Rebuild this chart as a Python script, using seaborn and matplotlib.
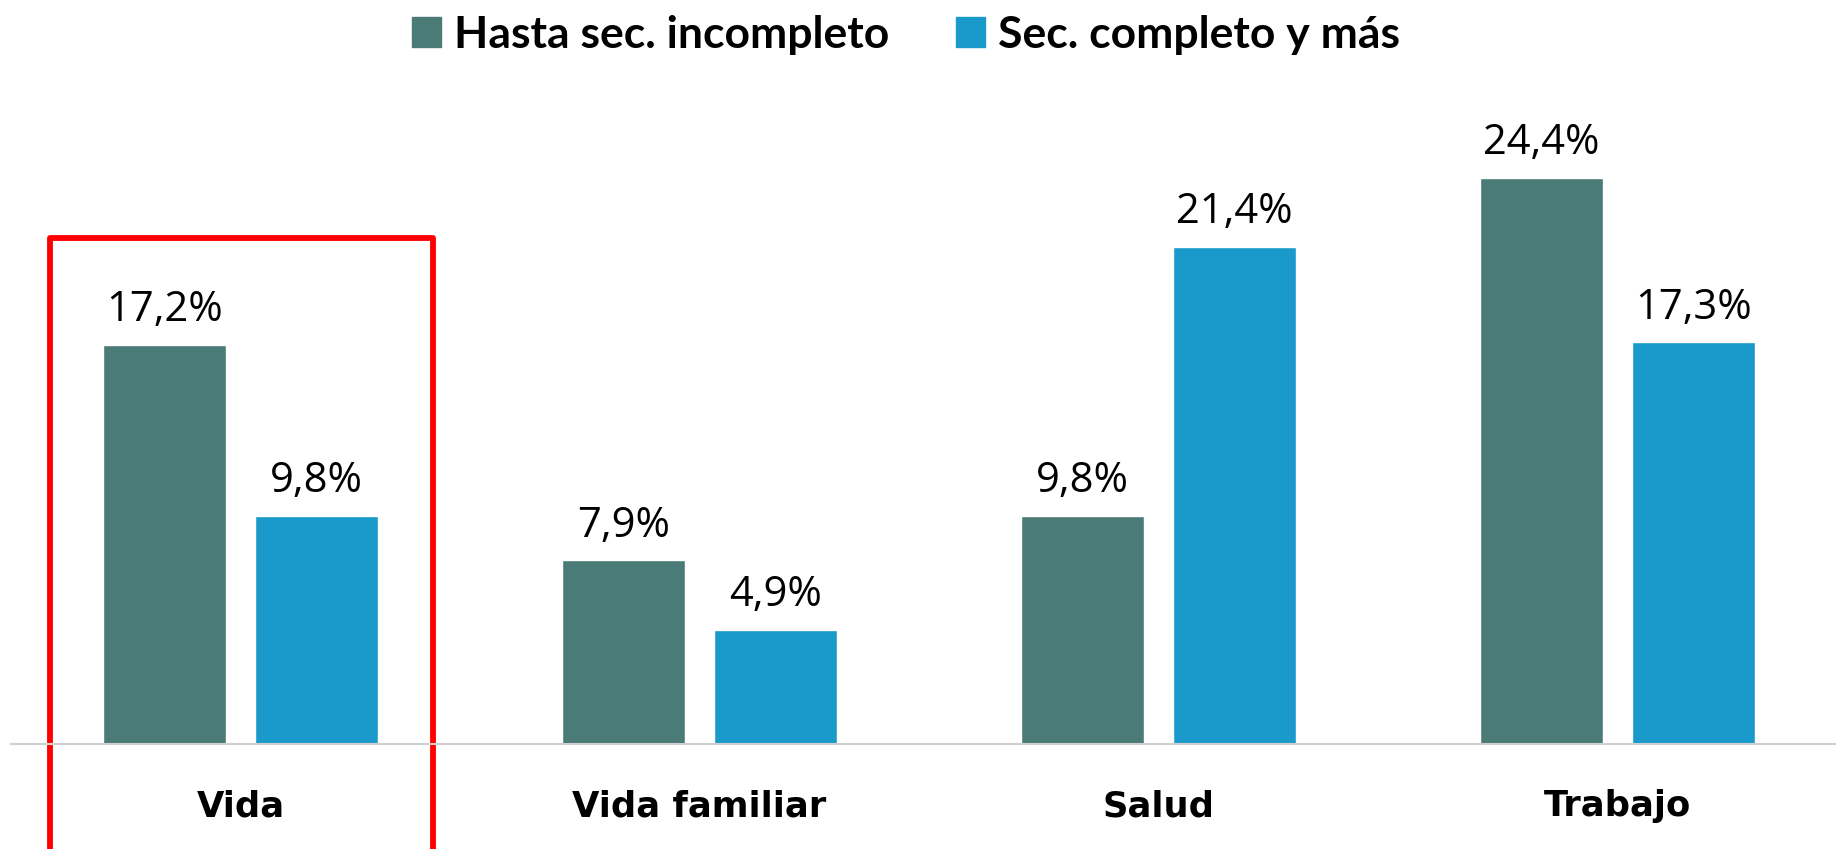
import matplotlib
matplotlib.use("Agg")
import matplotlib.pyplot as plt
import matplotlib.patches as mpatches
import seaborn as sns
import pandas as pd

# datos
categorias = ["Vida", "Vida familiar", "Salud", "Trabajo"]
series = ["Hasta sec. incompleto", "Sec. completo y más"]
hasta_sec = [17.2, 7.9, 9.8, 24.4]
sec_completo = [9.8, 4.9, 21.4, 17.3]
colores = ["#4A7B77", "#1A9ACB"]

df = pd.DataFrame({
    "Categoria": categorias * 2,
    "Serie": [series[0]] * 4 + [series[1]] * 4,
    "Valor": hasta_sec + sec_completo,
})

sns.set_style("white")
plt.rcParams["font.family"] = ["Open Sans", "DejaVu Sans"]
plt.rcParams["text.color"] = "black"

fig = plt.figure(figsize=(18.36, 8.49), dpi=100)
ax = fig.add_axes([11 / 1836, 0.1241, 1 - 11 / 1836, 0.7375])

sns.barplot(data=df, x="Categoria", y="Valor", hue="Serie", order=categorias,
            hue_order=series, palette=colores, width=0.664, gap=0.19,
            saturation=1, legend=False, ax=ax)

for cont in ax.containers:
    ax.bar_label(cont, labels=[f"{v:.1f}%".replace(".", ",") for v in cont.datavalues],
                 padding=10, fontsize=30, color="black")

ax.set_ylim(0, 27)
ax.set_xlim(-0.5, 3.476)
ax.set_xlabel("")
ax.set_ylabel("")
ax.set_yticks([])
ax.set_xticks(range(len(categorias)))
ax.set_xticklabels(categorias, fontsize=25.5, fontweight="bold", color="black",
                   family="DejaVu Sans")
ax.tick_params(axis="x", length=0, pad=33)
for s in ["top", "right", "left"]:
    ax.spines[s].set_visible(False)
ax.spines["bottom"].set_color("#d0d0d0")
ax.spines["bottom"].set_linewidth(1.5)

# recuadro rojo
rect = mpatches.Rectangle((-0.415, -6), 0.834, 27.8, fill=False, edgecolor="#FF0000",
                          linewidth=4.2, clip_on=False, joinstyle="round")
ax.add_patch(rect)

handles = [mpatches.Patch(color=c, label=s) for c, s in zip(colores, series)]
leg = fig.legend(handles=handles, loc="upper center", bbox_to_anchor=(0.4935, 1.03), ncol=2,
                 frameon=False, handlelength=0.65, handleheight=0.65, handletextpad=0.3,
                 columnspacing=1.5, prop={"family": "Lato", "weight": "bold", "size": 32})
for t in leg.get_texts():
    t.set_color("black")

fig.savefig("out.png", dpi=100)
